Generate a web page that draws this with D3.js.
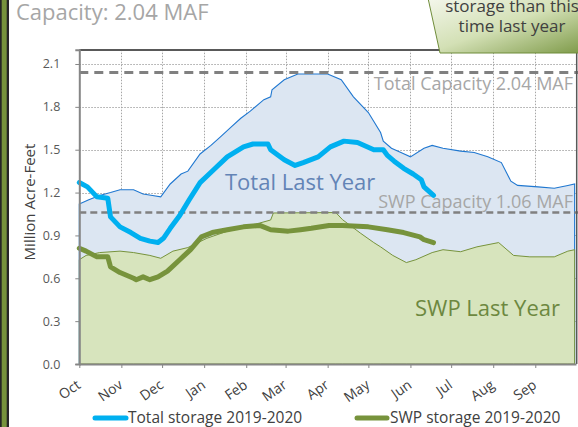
<!DOCTYPE html>
<html><head><meta charset="utf-8">
<script src="https://cdn.jsdelivr.net/npm/d3@7"></script>
<style>
body{margin:0;background:#fff}
svg{display:block}
text{font-family:"Century Gothic","URW Gothic","Open Sans",sans-serif}
</style>
</head><body>
<svg id="c" width="578" height="427"></svg>
<script>
// ---------- DATA ----------
const monthLabels = ["Oct","Nov","Dec","Jan","Feb","Mar","Apr","May","Jun","Jul","Aug","Sep"];
const monthStarts = ["2019-10-01","2019-11-01","2019-12-01","2020-01-01","2020-02-01","2020-03-01","2020-04-01","2020-05-01","2020-06-01","2020-07-01","2020-08-01","2020-09-01"];
const yTickValues = [0,0.3,0.6,0.9,1.2,1.5,1.8,2.1];

const totalLastYearDates = ["2019-10-01","2019-10-08","2019-10-16","2019-10-24","2019-10-31","2019-11-10","2019-11-17","2019-11-24","2019-11-30","2019-12-07","2019-12-15","2019-12-20","2019-12-29","2020-01-06","2020-01-13","2020-01-21","2020-01-28","2020-02-04","2020-02-14","2020-02-19","2020-02-20","2020-02-29","2020-03-10","2020-04-01","2020-04-11","2020-04-20","2020-05-01","2020-05-10","2020-05-12","2020-05-18","2020-05-25","2020-06-01","2020-06-11","2020-06-17","2020-06-25","2020-07-08","2020-07-18","2020-07-28","2020-08-07","2020-08-14","2020-08-19","2020-09-03","2020-09-15","2020-09-25","2020-09-30"];
const totalLastYearValues = [1.12,1.15,1.18,1.20,1.22,1.22,1.19,1.18,1.17,1.26,1.33,1.35,1.47,1.53,1.59,1.66,1.72,1.77,1.85,1.87,1.92,1.99,2.03,2.03,1.99,1.87,1.76,1.62,1.56,1.51,1.48,1.45,1.51,1.53,1.51,1.49,1.48,1.45,1.41,1.28,1.25,1.24,1.23,1.25,1.26];

const swpLastYearDates = ["2019-10-01","2019-10-06","2019-10-16","2019-10-31","2019-11-10","2019-11-22","2019-11-30","2019-12-09","2019-12-20","2020-01-03","2020-01-17","2020-02-11","2020-02-19","2020-02-21","2020-04-07","2020-04-12","2020-04-25","2020-05-05","2020-05-10","2020-05-19","2020-05-29","2020-06-05","2020-06-17","2020-06-25","2020-07-08","2020-07-20","2020-08-05","2020-08-16","2020-08-28","2020-09-15","2020-09-25","2020-09-30"];
const swpLastYearValues = [0.73,0.76,0.78,0.79,0.78,0.76,0.74,0.79,0.815,0.88,0.926,0.987,1.008,1.057,1.06,1.01,0.917,0.85,0.82,0.76,0.71,0.73,0.78,0.80,0.786,0.82,0.85,0.76,0.75,0.75,0.79,0.80];

const totalStorageDates = ["2019-10-01","2019-10-07","2019-10-14","2019-10-22","2019-10-24","2019-10-31","2019-11-08","2019-11-15","2019-11-22","2019-11-28","2019-12-02","2019-12-07","2019-12-14","2019-12-21","2019-12-29","2020-01-08","2020-01-18","2020-01-30","2020-02-06","2020-02-17","2020-02-19","2020-02-29","2020-03-08","2020-03-14","2020-03-25","2020-04-03","2020-04-13","2020-04-23","2020-05-05","2020-05-12","2020-05-15","2020-05-20","2020-05-27","2020-06-03","2020-06-09","2020-06-11","2020-06-18"];
const totalStorageValues = [1.27,1.24,1.17,1.16,1.03,0.96,0.92,0.88,0.86,0.85,0.88,0.95,1.04,1.15,1.27,1.36,1.45,1.52,1.54,1.54,1.50,1.43,1.39,1.41,1.45,1.52,1.56,1.55,1.50,1.50,1.46,1.42,1.37,1.33,1.29,1.24,1.18];

const swpStorageDates = ["2019-10-01","2019-10-06","2019-10-14","2019-10-22","2019-10-24","2019-10-31","2019-11-10","2019-11-12","2019-11-17","2019-11-22","2019-11-28","2019-12-05","2019-12-14","2019-12-22","2019-12-30","2020-01-07","2020-01-18","2020-01-30","2020-02-11","2020-02-19","2020-03-03","2020-03-12","2020-03-20","2020-04-02","2020-04-12","2020-05-01","2020-05-15","2020-05-27","2020-06-08","2020-06-11","2020-06-18"];
const swpStorageValues = [0.81,0.79,0.75,0.75,0.68,0.64,0.60,0.59,0.61,0.59,0.61,0.65,0.73,0.80,0.89,0.92,0.94,0.96,0.97,0.94,0.93,0.94,0.95,0.97,0.97,0.96,0.94,0.92,0.89,0.87,0.85];

const totalCapacity = 2.04;
const swpCapacity = 1.06;
const capacityLabels = ["Total Capacity 2.04 MAF","SWP Capacity 1.06 MAF"];
const areaLabels = ["Total Last Year","SWP Last Year"];
const legendLabels = ["Total storage 2019-2020","SWP storage 2019-2020"];
const titleText = "Capacity: 2.04 MAF";
const calloutLines = ["storage than this","time last year"];
const yTitle = "Million Acre-Feet";

// ---------- CHART ----------
const parse = d3.timeParse("%Y-%m-%d");
const svg = d3.select("#c");
const L = 79.3, R = 576, T = 49.7, B = 364;
const x = d3.scaleTime().domain([parse("2019-10-01"), parse("2020-10-01")]).range([L, R]);
const y = d3.scaleLinear().domain([0, 2.2]).range([B, T]);

const zip = (ds, vs) => ds.map((d,i)=>({date:parse(d), v:vs[i]}));
const totalLY = zip(totalLastYearDates,totalLastYearValues);
const swpLY = zip(swpLastYearDates,swpLastYearValues);
const totalNow = zip(totalStorageDates,totalStorageValues);
const swpNow = zip(swpStorageDates,swpStorageValues);

// left frame
svg.append("rect").attr("x",0).attr("y",0).attr("width",9).attr("height",427).attr("fill","#262626");
svg.append("rect").attr("x",1.7).attr("y",0).attr("width",5).attr("height",427).attr("fill","#77933c");

// title
svg.append("text").attr("x",16).attr("y",20).attr("font-size",22).attr("fill","#a6a6a6").text(titleText);

// gridlines
const grid = svg.append("g").attr("stroke","#a6a6a6").attr("stroke-width",1).attr("stroke-dasharray","1.5,1.5");
yTickValues.filter(v=>v>0).forEach(v=>{
  grid.append("line").attr("x1",L).attr("x2",R).attr("y1",Math.round(y(v))+0.5).attr("y2",Math.round(y(v))+0.5);
});
monthStarts.slice(1).forEach(m=>{
  const xx = Math.round(x(parse(m)))+0.5;
  grid.append("line").attr("x1",xx).attr("x2",xx).attr("y1",T).attr("y2",B);
});

// areas
const area = d3.area().x(d=>x(d.date)).y0(y(0)).y1(d=>y(d.v));
svg.append("path").datum(totalLY).attr("d",d=>area(d)+"Z").attr("fill","#dce6f2").attr("stroke","#1f77d0").attr("stroke-width",1.1);
svg.append("path").datum(swpLY).attr("d",d=>area(d)+"Z").attr("fill","#d7e4bd").attr("stroke","#77933c").attr("stroke-width",1);

// capacity dashed lines
svg.append("line").attr("x1",L).attr("x2",578).attr("y1",y(totalCapacity)).attr("y2",y(totalCapacity))
  .attr("stroke","#808080").attr("stroke-width",3).attr("stroke-dasharray","9,6");
svg.append("line").attr("x1",L).attr("x2",578).attr("y1",y(swpCapacity)).attr("y2",y(swpCapacity))
  .attr("stroke","#808080").attr("stroke-width",2.5).attr("stroke-dasharray","7,4");

// labels in plot
svg.append("text").attr("x",573).attr("y",90).attr("text-anchor","end").attr("font-size",18).attr("fill","#a6a6a6").text(capacityLabels[0]);
svg.append("text").attr("x",573).attr("y",208).attr("text-anchor","end").attr("font-size",18).attr("fill","#a6a6a6").text(capacityLabels[1]);
svg.append("text").attr("x",225).attr("y",190).attr("font-size",22).attr("fill","#6384b6").text(areaLabels[0]);
svg.append("text").attr("x",415).attr("y",316).attr("font-size",22).attr("fill","#6d8840").text(areaLabels[1]);

// current year lines
const line = d3.line().x(d=>x(d.date)).y(d=>y(d.v));
svg.append("path").datum(totalNow).attr("d",line).attr("fill","none").attr("stroke","#00b0f0").attr("stroke-width",5).attr("stroke-linecap","round").attr("stroke-linejoin","round");
svg.append("path").datum(swpNow).attr("d",line).attr("fill","none").attr("stroke","#77933c").attr("stroke-width",5).attr("stroke-linecap","round").attr("stroke-linejoin","round");

// plot border top/right
svg.append("line").attr("x1",L).attr("x2",577).attr("y1",50).attr("y2",50).attr("stroke","#595959").attr("stroke-width",2);
svg.append("line").attr("x1",576.7).attr("x2",576.7).attr("y1",50).attr("y2",B).attr("stroke","#595959").attr("stroke-width",1.5);

// axes
const yAxis = d3.axisLeft(y).tickValues(yTickValues).tickFormat(d3.format(".1f")).tickSize(4).tickPadding(15);
const gy = svg.append("g").attr("transform",`translate(${L},0)`).call(yAxis);
gy.select(".domain").attr("stroke","#868686").attr("stroke-width",2);
gy.selectAll(".tick line").attr("stroke","#868686");
gy.selectAll("text").attr("font-size",12.5).attr("fill","#595959").attr("font-family",null);

const xAxis = d3.axisBottom(x).tickValues(monthStarts.map(parse)).tickFormat((d,i)=>monthLabels[i]).tickSize(4).tickSizeOuter(0);
const gx = svg.append("g").attr("transform",`translate(0,${B})`).call(xAxis);
gx.select(".domain").attr("stroke","#868686").attr("stroke-width",2);
gx.selectAll(".tick line").attr("stroke","#868686");
gx.selectAll("text").attr("font-size",14).attr("fill","#404040").attr("font-family",null)
  .attr("text-anchor","end").attr("y",0).attr("dy","0.35em")
  .attr("transform","translate(-1,19) rotate(-35)");

// y title
svg.append("text").attr("transform","translate(34.5,202) rotate(-90)").attr("text-anchor","middle")
  .attr("font-size",15).attr("fill","#404040").text(yTitle);

// callout
const defs = svg.append("defs");
const grad = defs.append("linearGradient").attr("id","cg").attr("x1","0").attr("y1","0").attr("x2","1").attr("y2","1");
grad.append("stop").attr("offset","0").attr("stop-color","#f4f7ec");
grad.append("stop").attr("offset","0.5").attr("stop-color","#d3e0b5");
grad.append("stop").attr("offset","1").attr("stop-color","#7f9b4a");
svg.append("polygon").attr("points","428,-2 440,53 580,53 580,-2").attr("fill","url(#cg)").attr("stroke","#6f8c3a").attr("stroke-width",1);
svg.append("text").attr("x",512).attr("y",12).attr("text-anchor","middle").attr("font-size",17).attr("fill","#404040").text(calloutLines[0]);
svg.append("text").attr("x",512).attr("y",32).attr("text-anchor","middle").attr("font-size",17).attr("fill","#404040").text(calloutLines[1]);

// legend
svg.append("line").attr("x1",95).attr("x2",126).attr("y1",418).attr("y2",418).attr("stroke","#00b0f0").attr("stroke-width",5).attr("stroke-linecap","round");
svg.append("text").attr("x",128).attr("y",423).attr("font-size",15.5).attr("fill","#404040").text(legendLabels[0]);
svg.append("line").attr("x1",357).attr("x2",387).attr("y1",418).attr("y2",418).attr("stroke","#77933c").attr("stroke-width",5).attr("stroke-linecap","round");
svg.append("text").attr("x",390).attr("y",423).attr("font-size",15.5).attr("fill","#404040").text(legendLabels[1]);
</script>
</body></html>
